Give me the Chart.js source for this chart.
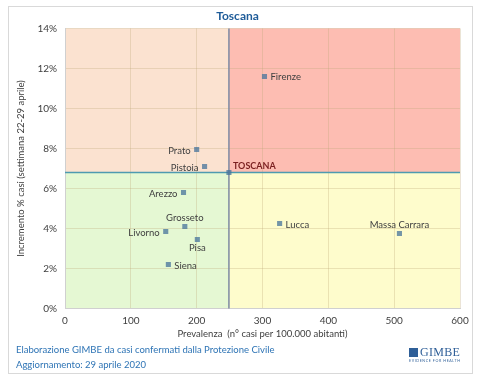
<!DOCTYPE html>
<html>
<head>
<meta charset="utf-8">
<script src="https://cdn.jsdelivr.net/npm/chart.js@4"></script>
<style>
  body { margin: 0; background: #fff; font-family: Lato, "Open Sans", sans-serif; }
  #wrap { position: relative; width: 482px; height: 380px; }
  #frame { position: absolute; left: 8px; top: 6px; width: 465px; height: 368px; border: 1px solid #d9d9d9; box-sizing: border-box; }
  #foot { position: absolute; left: 16px; top: 342px; font-size: 9.5px; line-height: 15px; color: #2e74b5; }
  #logo { position: absolute; left: 409px; top: 347px; color: #2f5f98; }
  #logo .name { font-family: "Liberation Serif", serif; font-size: 12px; line-height: 11px; letter-spacing: 0.3px; }
  #logo .name span { display: inline-block; width: 9px; height: 9px; background: #2f5f98; margin-right: 2px; vertical-align: -1px; }
  #logo .sub { font-size: 3.6px; letter-spacing: 0.6px; line-height: 5px; }
  canvas { position: absolute; left: 0; top: 0; }
</style>
</head>
<body>
<div id="wrap">
  <div id="frame"></div>
  <canvas id="chart" width="482" height="380"></canvas>
  <div id="foot">Elaborazione GIMBE da casi confermati dalla Protezione Civile<br>Aggiornamento: 29 aprile 2020</div>
  <div id="logo"><div class="name"><span></span>GIMBE</div><div class="sub">EVIDENCE FOR HEALTH</div></div>
</div>
<script>
const provinces = ['Firenze', 'Prato', 'Pistoia', 'Arezzo', 'Grosseto', 'Livorno', 'Pisa', 'Siena', 'Lucca', 'Massa Carrara'];
const prevalence = [303, 200, 212, 180, 182, 153, 201, 157, 326, 508];
const increment = [11.6, 7.95, 7.1, 5.8, 4.1, 3.85, 3.45, 2.2, 4.25, 3.75];

const regionName = 'TOSCANA';
const regionPrevalence = 249;
const regionIncrement = 6.8;

const xTicks = [0, 100, 200, 300, 400, 500, 600];
const yTicks = [0, 2, 4, 6, 8, 10, 12, 14];

// where each label sits relative to its marker
const labelSide = {
  'Firenze': 'right', 'Prato': 'left', 'Pistoia': 'left', 'Arezzo': 'left',
  'Grosseto': 'top', 'Livorno': 'left', 'Pisa': 'bottom', 'Siena': 'right',
  'Lucca': 'right', 'Massa Carrara': 'top'
};

const quadrants = {
  id: 'quadrants',
  beforeDraw(chart) {
    const { ctx, chartArea: a, scales: { x, y } } = chart;
    const qx = x.getPixelForValue(regionPrevalence);
    const qy = y.getPixelForValue(regionIncrement);
    ctx.save();
    ctx.fillStyle = '#fbe2d0'; ctx.fillRect(a.left, a.top, qx - a.left, qy - a.top);
    ctx.fillStyle = '#fdbdb2'; ctx.fillRect(qx, a.top, a.right - qx, qy - a.top);
    ctx.fillStyle = '#e5f8d3'; ctx.fillRect(a.left, qy, qx - a.left, a.bottom - qy);
    ctx.fillStyle = '#fefccc'; ctx.fillRect(qx, qy, a.right - qx, a.bottom - qy);
    ctx.restore();
  },
  beforeDatasetsDraw(chart) {
    const { ctx, chartArea: a, scales: { x, y } } = chart;
    const qx = x.getPixelForValue(regionPrevalence);
    const qy = y.getPixelForValue(regionIncrement);
    ctx.save();
    ctx.lineWidth = 1.5;
    ctx.strokeStyle = '#4e9ab0';
    ctx.beginPath(); ctx.moveTo(a.left, qy); ctx.lineTo(a.right, qy); ctx.stroke();
    ctx.strokeStyle = '#7c8aa3';
    ctx.beginPath(); ctx.moveTo(qx, a.top); ctx.lineTo(qx, a.bottom); ctx.stroke();
    ctx.restore();
  },
  afterDatasetsDraw(chart) {
    const { ctx, scales: { x, y } } = chart;
    ctx.save();
    ctx.font = '9.5px Lato, sans-serif';
    ctx.fillStyle = '#404040';
    provinces.forEach((name, i) => {
      const px = x.getPixelForValue(prevalence[i]);
      const py = y.getPixelForValue(increment[i]);
      const side = labelSide[name];
      if (side === 'right') { ctx.textAlign = 'left'; ctx.textBaseline = 'middle'; ctx.fillText(name, px + 6, py + 1); }
      else if (side === 'left') { ctx.textAlign = 'right'; ctx.textBaseline = 'middle'; ctx.fillText(name, px - 6, py + 1); }
      else if (side === 'top') { ctx.textAlign = 'center'; ctx.textBaseline = 'bottom'; ctx.fillText(name, px, py - 4); }
      else { ctx.textAlign = 'center'; ctx.textBaseline = 'top'; ctx.fillText(name, px, py + 4); }
    });
    const rx = x.getPixelForValue(regionPrevalence);
    const ry = y.getPixelForValue(regionIncrement);
    ctx.font = 'bold 9px Lato, sans-serif';
    ctx.fillStyle = '#7a1f1f';
    ctx.textAlign = 'left'; ctx.textBaseline = 'bottom';
    ctx.fillText(regionName, rx + 4, ry - 2);
    ctx.restore();
  }
};

new Chart(document.getElementById('chart'), {
  type: 'scatter',
  data: {
    datasets: [{
      label: 'Province',
      data: provinces.map((p, i) => ({ x: prevalence[i], y: increment[i] })),
      pointStyle: 'rect',
      pointRadius: 3.6,
      backgroundColor: 'rgba(70,115,155,0.75)',
      borderWidth: 0
    }, {
      label: regionName,
      data: [{ x: regionPrevalence, y: regionIncrement }],
      pointStyle: 'rect',
      pointRadius: 3.6,
      backgroundColor: 'rgba(70,115,155,0.75)',
      borderWidth: 0
    }]
  },
  plugins: [quadrants],
  options: {
    responsive: false,
    animation: false,
    layout: { padding: { left: 15, right: 22, top: 7, bottom: 40 } },
    plugins: {
      legend: { display: false },
      tooltip: { enabled: false },
      title: {
        display: true,
        text: 'Toscana',
        color: '#1f5c99',
        font: { family: 'Lato', size: 12, weight: 'bold' },
        padding: { top: 2, bottom: 5 }
      }
    },
    scales: {
      x: {
        type: 'linear',
        min: 0, max: 600,
        afterBuildTicks: axis => { axis.ticks = xTicks.map(v => ({ value: v })); },
        ticks: { color: '#404040', font: { family: 'Lato', size: 10 }, padding: 6 },
        grid: { color: 'rgba(190,165,120,0.3)', drawTicks: false },
        border: { color: '#d0d0d0' },
        title: {
          display: true,
          text: 'Prevalenza  (n° casi per 100.000 abitanti)',
          color: '#404040',
          font: { family: 'Lato', size: 9.5 },
          padding: { top: -4, bottom: 0 }
        }
      },
      y: {
        min: 0, max: 14,
        afterBuildTicks: axis => { axis.ticks = yTicks.map(v => ({ value: v })); },
        ticks: { color: '#404040', font: { family: 'Lato', size: 10 }, padding: 8, callback: v => v + '%' },
        grid: { color: 'rgba(190,165,120,0.3)', drawTicks: false },
        border: { color: '#d0d0d0' },
        title: {
          display: true,
          text: 'Incremento % casi (settimana 22-29 aprile)',
          color: '#404040',
          font: { family: 'Lato', size: 9.5 },
          padding: { top: 0, bottom: 3 }
        }
      }
    }
  }
});
</script>
</body>
</html>
